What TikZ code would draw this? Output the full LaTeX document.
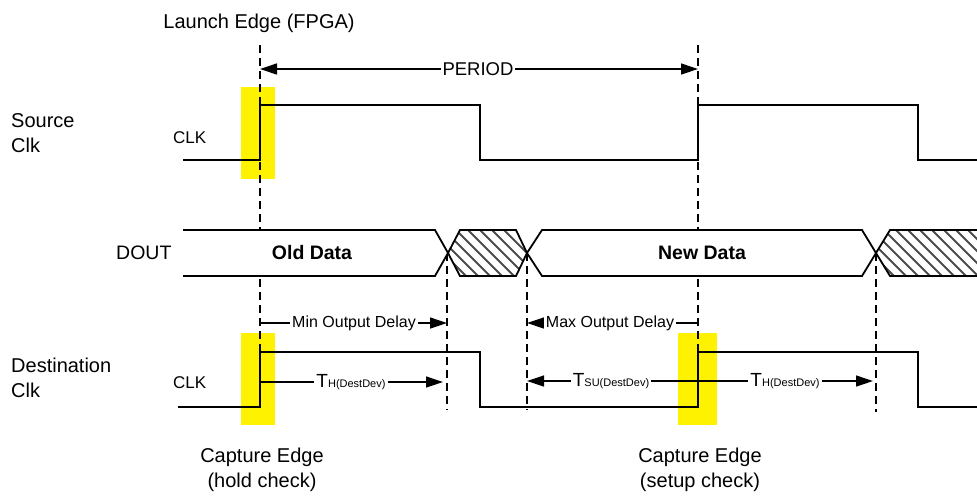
\documentclass[tikz,border=0pt]{standalone}
\usepackage{fontspec}
\setmainfont{Liberation Sans}
\usetikzlibrary{arrows.meta}
\begin{document}
\begin{tikzpicture}[x=1pt,y=-1pt,
  sig/.style={line width=2pt, line join=miter},
  busline/.style={line width=1.8pt, line join=miter},
  guide/.style={line width=1.3pt, dash pattern=on 8pt off 5pt},
  dimr/.style={line width=1.3pt, -{Triangle[length=17pt,width=11pt]}},
  diml/.style={line width=1.3pt, {Triangle[length=17pt,width=11pt]}-},
  dimb/.style={line width=1.3pt, {Triangle[length=17pt,width=11pt]}-{Triangle[length=17pt,width=11pt]}},
  hl/.style={fill=yellow, draw=none},
  lbl/.style={fill=white, inner sep=2pt},
  txt/.style={inner sep=0pt, font=\fontsize{20}{24.5}\selectfont},
  hatchline/.style={line width=1.9pt, draw=black!70}
]
\useasboundingbox (0,0) rectangle (977,496);
\fill[white] (0,0) rectangle (977,496);

% highlight boxes
\fill[hl] (241,87) rectangle (275,179);
\fill[hl] (241,333) rectangle (275,425);
\fill[hl] (678,333) rectangle (717,425);

% guide coordinates
\coordinate (lt) at (260,45);
\coordinate (lb) at (260,351);
\coordinate (ct) at (698,45);
\coordinate (cb) at (698,351);
\coordinate (m1t) at (447,253);
\coordinate (m1b) at (447,410);
\coordinate (m2t) at (527,253);
\coordinate (m2b) at (527,410);
\coordinate (m3t) at (876,253);
\coordinate (m3b) at (876,412);
\draw[guide] (lt) -- (lb);
\draw[guide] (ct) -- (cb);
\draw[guide] (m1t) -- (m1b);
\draw[guide] (m2t) -- (m2b);
\draw[guide] (m3t) -- (m3b);

% DOUT bus
\fill[white] (183,230) -- (435,230) -- (448,253) -- (435,276) -- (183,276) -- cycle;
\draw[busline] (183,230) -- (435,230) -- (448,253) -- (435,276) -- (183,276);
\begin{scope}
  \clip (448,253) -- (460,230) -- (516,230) -- (527,253) -- (516,276) -- (460,276) -- cycle;
  \fill[white] (440,225) rectangle (535,280);
  \foreach \i in {380,392,...,540} {\draw[hatchline] (\i,226) -- (\i+54,280);}
\end{scope}
\draw[busline] (448,253) -- (460,230) -- (516,230) -- (527,253) -- (516,276) -- (460,276) -- cycle;
\fill[white] (527,253) -- (542,230) -- (862,230) -- (876,253) -- (862,276) -- (542,276) -- cycle;
\draw[busline] (527,253) -- (542,230) -- (862,230) -- (876,253) -- (862,276) -- (542,276) -- cycle;
\begin{scope}
  \clip (876,253) -- (890,230) -- (980,230) -- (980,276) -- (890,276) -- cycle;
  \fill[white] (870,225) rectangle (980,280);
  \foreach \i in {820,832,...,990} {\draw[hatchline] (\i,226) -- (\i+54,280);}
\end{scope}
\draw[busline] (980,230) -- (890,230) -- (876,253) -- (890,276) -- (980,276);

% clocks
\draw[sig] (183,160) -| (260,105) -| (480,160) -| (698,105) -| (918,160) -- (977,160);
\draw[sig] (178,407) -| (260,352) -| (480,407) -| (698,352) -| (918,407) -- (977,407);

% dimension lines
\coordinate (pa) at (260,69);
\coordinate (pb) at (698,69);
\draw[dimb] (pa) -- (pb);
\node[lbl, font=\fontsize{18.5}{20}\selectfont] (period) at (478,69) {PERIOD};

\coordinate (mina) at (260,323);
\coordinate (minb) at (447,323);
\draw[dimr] (mina) -- (minb);
\node[lbl, font=\fontsize{16}{18}\selectfont] (mind) at (354,323) {Min Output Delay};

\coordinate (maxa) at (527,323);
\coordinate (maxb) at (698,323);
\draw[diml] (maxa) -- (maxb);
\node[lbl, font=\fontsize{16}{18}\selectfont] (maxd) at (610,323) {Max Output Delay};

\coordinate (tha) at (260,382);
\coordinate (thb) at (443,382);
\draw[dimr] (tha) -- (thb);
\node[lbl] (th1) at (351,382) {\fontsize{19}{20}\selectfont T\fontsize{11}{14}\selectfont H(DestDev)};

\coordinate (tsa) at (527,381);
\coordinate (tsb) at (873,381);
\draw[dimb] (tsa) -- (tsb);
\node[lbl] (tsu) at (611,381) {\fontsize{19}{20}\selectfont T\fontsize{11}{14}\selectfont SU(DestDev)};
\node[lbl] (th2) at (785,381) {\fontsize{19}{20}\selectfont T\fontsize{11}{14}\selectfont H(DestDev)};

% texts
\node[txt] (launch) at (259,23) {Launch Edge (FPGA)};
\node[txt, anchor=west, align=left] (src) at (11,133) {Source\\Clk};
\node[txt, anchor=west, align=left] (dst) at (11,378) {Destination\\Clk};
\node[inner sep=0pt, anchor=west, font=\fontsize{17}{20}\selectfont] (clk1) at (173,138) {CLK};
\node[inner sep=0pt, anchor=west, font=\fontsize{17}{20}\selectfont] (clk2) at (173,383) {CLK};
\node[inner sep=0pt, anchor=west, font=\fontsize{19.5}{22}\selectfont] (dout) at (116,253) {DOUT};
\node[inner sep=0pt, font=\fontsize{19.5}{22}\selectfont\bfseries] (old) at (312,253) {Old Data};
\node[inner sep=0pt, font=\fontsize{19.5}{22}\selectfont\bfseries] (new) at (702,253) {New Data};
\node[txt, align=center] (cap1) at (262,470) {Capture Edge\\(hold check)};
\node[txt, align=center] (cap2) at (700,470) {Capture Edge\\(setup check)};
\end{tikzpicture}
\end{document}
